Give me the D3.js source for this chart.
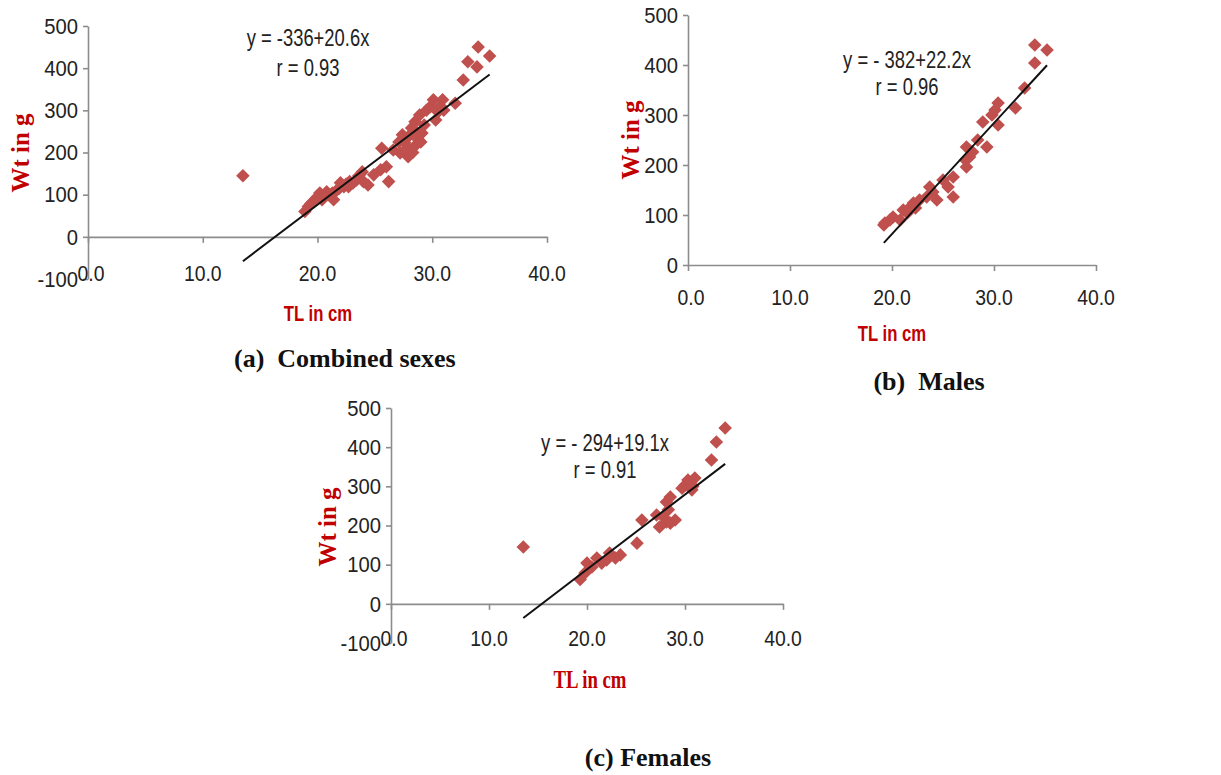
<!DOCTYPE html>
<meta charset="utf-8">
<style>
body { margin: 0; background: #fff; }
.axis path, .axis line { fill: none; stroke: #8c8c8c; stroke-width: 1.6; }
</style>
<body>
<script src="https://d3js.org/d3.v7.min.js"></script>
<script>

// ---- data ----
var xTicks = [0, 10, 20, 30, 40];
var yTicksNeg = [-100, 0, 100, 200, 300, 400, 500];
var yTicksPos = [0, 100, 200, 300, 400, 500];

var combinedTL = [13.5, 18.9, 19.2, 19.6, 20.0, 20.2, 20.4, 20.8, 21.3, 21.4, 21.7, 22.0, 22.3, 22.7, 22.8, 23.4,
  23.9, 24.0, 24.4, 24.9, 25.5, 25.6, 26.0, 26.2, 26.6, 27.1, 27.2, 27.4, 27.6, 27.9, 28.2, 28.4, 28.5, 28.8,
  28.9, 29.1, 29.8, 30.1, 30.3, 30.5, 30.9, 32.0, 32.7, 33.1, 33.9, 34.0, 35.0,
  19.4, 20.6, 21.0, 21.9, 22.5, 23.1, 23.6, 28.0, 28.6, 29.3, 29.5, 30.7, 31.0, 27.8, 28.3, 29.0];
var combinedWt = [145, 60, 72, 84, 95, 104, 88, 107, 104, 88, 111, 128, 119, 119, 131, 135,
  154, 131, 123, 147, 159, 210, 166, 131, 206, 225, 199, 242, 223, 190, 258, 213, 273, 230,
  289, 246, 308, 325, 277, 296, 325, 317, 372, 415, 403, 450, 429,
  78, 96, 100, 115, 125, 128, 145, 240, 250, 265, 300, 310, 300, 210, 200, 225];

var malesTL = [19.2, 19.3, 19.8, 20.1, 20.8, 21.1, 21.5, 21.6, 21.8, 22.1, 22.3, 22.7, 23.4, 23.7, 24.0, 24.4,
  25.0, 25.5, 26.0, 26.0, 27.2, 27.3, 27.3, 27.6, 27.9, 28.4, 28.9, 29.3, 29.8, 30.1, 30.4, 30.4, 32.1, 33.0,
  34.0, 34.0, 35.2];
var malesWt = [80, 84, 90, 96, 90, 110, 104, 110, 116, 124, 114, 130, 136, 156, 146, 130,
  170, 156, 176, 136, 210, 236, 196, 216, 226, 250, 286, 236, 300, 310, 324, 280, 314, 354,
  404, 440, 430];

var femalesTL = [13.5, 19.3, 19.8, 20.0, 20.5, 21.0, 21.5, 22.0, 22.3, 22.9, 23.4, 25.1, 25.6, 27.1, 27.4, 27.8,
  28.1, 28.1, 28.3, 28.5, 28.5, 29.0, 29.7, 30.0, 30.3, 30.7, 30.8, 31.0, 32.7, 33.2, 34.1];
var femalesWt = [145, 62, 79, 104, 94, 117, 104, 112, 130, 117, 125, 155, 214, 227, 196, 222,
  209, 260, 240, 206, 273, 214, 295, 303, 316, 291, 300, 321, 367, 413, 449];

var intercepts = [-336, -382, -294];
var slopes = [20.6, 22.2, 19.1];
var equations = ["y = -336+20.6x", "y = - 382+22.2x", "y = - 294+19.1x"];
var rValues = ["r = 0.93", "r = 0.96", "r = 0.91"];
var captions = ["(a)\u00a0\u00a0Combined sexes", "(b)\u00a0\u00a0Males", "(c) Females"];

var SANS = "'Liberation Sans', Arial, sans-serif";
var SERIF = "'Liberation Serif', 'Times New Roman', serif";
var SQ = 0.86; // the figure's text is narrow (Calibri-like)

var svg = d3.select("body").append("svg")
  .attr("width", 1221).attr("height", 775);

function txt(g, s, cx, cy, o) {
  o = o || {};
  var t = g.append("text")
    .attr("transform", "translate(" + cx + "," + cy + ")" + (o.rotate ? " rotate(-90)" : "") +
      " scale(" + (o.sx || SQ) + ",1)")
    .attr("text-anchor", o.anchor || "middle")
    .attr("dominant-baseline", "central")
    .style("font-family", o.font || SANS)
    .style("font-size", (o.size || 22) + "px")
    .style("font-weight", o.bold ? "bold" : "normal")
    .attr("fill", o.fill || "#222")
    .text(s);
  return t;
}

var panels = [
  { xs: combinedTL, ys: combinedWt, xr: [88, 547], yd: [-100, 500], yr: [279, 26], yt: yTicksNeg,
    xlabY: 273, eq: [308, 38, 68], wt: [20, 153], tl: [318, 313], tlSerif: false, cap: [234, 358, "start"] },
  { xs: malesTL, ys: malesWt, xr: [688, 1096], yd: [0, 500], yr: [265, 15], yt: yTicksPos,
    xlabY: 297, eq: [907, 60, 87], wt: [630, 140], tl: [892, 333], tlSerif: false, cap: [929, 381, "middle"] },
  { xs: femalesTL, ys: femalesWt, xr: [391, 783], yd: [-100, 500], yr: [643, 408], yt: yTicksNeg,
    xlabY: 638, eq: [605, 443, 470], wt: [327, 527], tl: [590, 680], tlSerif: true, cap: [648, 757, "middle"] }
];

panels.forEach(function(p, i) {
  var g = svg.append("g");
  var x = d3.scaleLinear().domain([0, 40]).range(p.xr);
  var y = d3.scaleLinear().domain(p.yd).range(p.yr);

  // y axis
  var ya = g.append("g").attr("class", "axis")
    .attr("transform", "translate(" + x(0) + ",0)")
    .call(d3.axisLeft(y).tickValues(p.yt).tickSize(5).tickSizeOuter(0).tickFormat(d3.format("d")));
  ya.selectAll("text").remove();
  p.yt.forEach(function(v) {
    txt(g, String(v), x(0) - 10, y(v), { anchor: "end", sx: 0.92 });
  });

  // x axis crossing at y = 0
  g.append("g").attr("class", "axis")
    .attr("transform", "translate(0," + y(0) + ")")
    .call(d3.axisBottom(x).tickValues(xTicks).tickSize(6).tickSizeOuter(0).tickFormat(""));
  xTicks.forEach(function(v) {
    txt(g, d3.format(".1f")(v), x(v) + (v === 0 ? 3 : 0), p.xlabY, { sx: 0.88 });
  });

  // points
  var pts = p.xs.map(function(d, k) { return [d, p.ys[k]]; });
  g.selectAll("path.pt").data(pts).enter().append("path")
    .attr("class", "pt")
    .attr("d", d3.symbol(d3.symbolSquare, 92))
    .attr("transform", function(d) { return "translate(" + x(d[0]) + "," + y(d[1]) + ") rotate(45)"; })
    .attr("fill", "#c0504d");

  // fitted line
  var ext = d3.extent(p.xs);
  g.append("line")
    .attr("x1", x(ext[0])).attr("y1", y(intercepts[i] + slopes[i] * ext[0]))
    .attr("x2", x(ext[1])).attr("y2", y(intercepts[i] + slopes[i] * ext[1]))
    .attr("stroke", "#111").attr("stroke-width", 2);

  // equation and r
  txt(g, equations[i], p.eq[0], p.eq[1], { size: 23, sx: 0.8 });
  txt(g, rValues[i], p.eq[0], p.eq[2], { size: 23, sx: 0.8 });

  // axis titles
  txt(g, "Wt in g", p.wt[0], p.wt[1], { rotate: true, font: SERIF, bold: true, size: 25, sx: 1, fill: "#c00000" });
  if (p.tlSerif) {
    txt(g, "TL in cm", p.tl[0], p.tl[1], { font: SERIF, bold: true, size: 25, sx: 0.75, fill: "#c00000" });
  } else {
    txt(g, "TL in cm", p.tl[0], p.tl[1], { bold: true, size: 22, sx: 0.76, fill: "#c00000" });
  }

  // caption
  txt(g, captions[i], p.cap[0], p.cap[1], { anchor: p.cap[2], font: SERIF, bold: true, size: 26, sx: 1, fill: "#111" });
});

</script>
</body>
